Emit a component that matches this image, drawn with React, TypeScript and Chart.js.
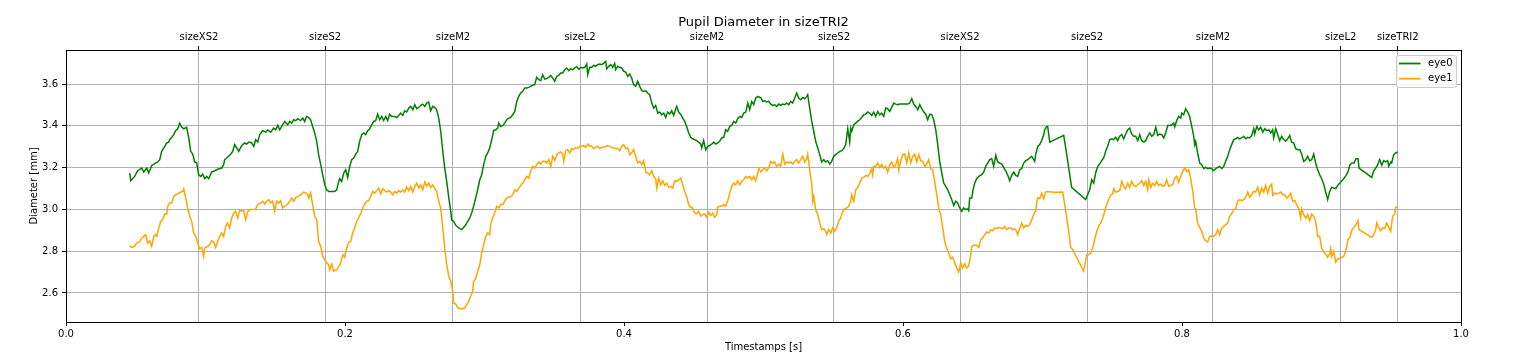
import React, { useEffect, useRef } from "react";
import { Chart, registerables } from "chart.js";

Chart.register(...registerables);

const eye0Time = [
  0.0457, 0.0464, 0.0492, 0.0514, 0.0543, 0.0557, 0.0579, 0.0593, 0.0614, 0.0636, 0.0657, 0.0672, 0.0686, 0.0708, 0.0722, 0.0736, 0.0743, 0.0758, 0.0772, 0.0786,
  0.0801, 0.0815, 0.0829, 0.0844, 0.0865, 0.0880, 0.0894, 0.0908, 0.0923, 0.0937, 0.0951, 0.0966, 0.0980, 0.0994, 0.1009, 0.1023, 0.1044, 0.1066, 0.1087, 0.1116,
  0.1130, 0.1138, 0.1152, 0.1166, 0.1181, 0.1195, 0.1209, 0.1224, 0.1238, 0.1252, 0.1267, 0.1281, 0.1295, 0.1310, 0.1331, 0.1346, 0.1360, 0.1374, 0.1389, 0.1410,
  0.1432, 0.1446, 0.1467, 0.1489, 0.1503, 0.1518, 0.1532, 0.1553, 0.1568, 0.1589, 0.1604, 0.1618, 0.1632, 0.1647, 0.1661, 0.1682, 0.1697, 0.1711, 0.1725, 0.1740,
  0.1754, 0.1768, 0.1783, 0.1797, 0.1811, 0.1826, 0.1840, 0.1855, 0.1869, 0.1883, 0.1905, 0.1926, 0.1941, 0.1955, 0.1962, 0.1976, 0.1991, 0.2005, 0.2019, 0.2034,
  0.2048, 0.2062, 0.2077, 0.2091, 0.2105, 0.2120, 0.2134, 0.2148, 0.2163, 0.2177, 0.2191, 0.2206, 0.2220, 0.2234, 0.2249, 0.2263, 0.2277, 0.2292, 0.2306, 0.2320,
  0.2335, 0.2356, 0.2371, 0.2385, 0.2399, 0.2414, 0.2428, 0.2442, 0.2457, 0.2471, 0.2486, 0.2500, 0.2514, 0.2529, 0.2543, 0.2557, 0.2572, 0.2586, 0.2600, 0.2614,
  0.2629, 0.2643, 0.2657, 0.2672, 0.2686, 0.2701, 0.2715, 0.2729, 0.2744, 0.2758, 0.2765, 0.2779, 0.2794, 0.2815, 0.2836, 0.2858, 0.2880, 0.2894, 0.2908, 0.2922,
  0.2937, 0.2951, 0.2966, 0.2980, 0.2994, 0.3009, 0.3023, 0.3037, 0.3052, 0.3066, 0.3080, 0.3095, 0.3102, 0.3116, 0.3131, 0.3145, 0.3159, 0.3174, 0.3188, 0.3202,
  0.3217, 0.3231, 0.3245, 0.3260, 0.3274, 0.3288, 0.3303, 0.3317, 0.3331, 0.3346, 0.3360, 0.3374, 0.3389, 0.3403, 0.3417, 0.3432, 0.3446, 0.3460, 0.3475, 0.3489,
  0.3503, 0.3518, 0.3532, 0.3546, 0.3561, 0.3575, 0.3589, 0.3604, 0.3618, 0.3632, 0.3647, 0.3661, 0.3676, 0.3690, 0.3704, 0.3719, 0.3733, 0.3740, 0.3754, 0.3768,
  0.3783, 0.3797, 0.3811, 0.3826, 0.3840, 0.3855, 0.3869, 0.3876, 0.3890, 0.3905, 0.3919, 0.3933, 0.3940, 0.3955, 0.3969, 0.3984, 0.3998, 0.4012, 0.4027, 0.4041,
  0.4055, 0.4069, 0.4084, 0.4098, 0.4113, 0.4127, 0.4141, 0.4156, 0.4170, 0.4184, 0.4199, 0.4213, 0.4227, 0.4242, 0.4256, 0.4270, 0.4285, 0.4299, 0.4313, 0.4328,
  0.4342, 0.4356, 0.4371, 0.4378, 0.4392, 0.4406, 0.4421, 0.4435, 0.4449, 0.4464, 0.4478, 0.4492, 0.4507, 0.4521, 0.4535, 0.4550, 0.4557, 0.4571, 0.4586, 0.4600,
  0.4614, 0.4629, 0.4643, 0.4657, 0.4672, 0.4686, 0.4700, 0.4715, 0.4729, 0.4743, 0.4758, 0.4772, 0.4786, 0.4801, 0.4815, 0.4829, 0.4844, 0.4858, 0.4873, 0.4887,
  0.4901, 0.4916, 0.4930, 0.4944, 0.4959, 0.4973, 0.4980, 0.4994, 0.5009, 0.5023, 0.5037, 0.5052, 0.5066, 0.5080, 0.5095, 0.5109, 0.5123, 0.5138, 0.5152, 0.5166,
  0.5181, 0.5195, 0.5209, 0.5224, 0.5238, 0.5252, 0.5267, 0.5281, 0.5296, 0.5310, 0.5317, 0.5331, 0.5346, 0.5360, 0.5374, 0.5389, 0.5403, 0.5417, 0.5432, 0.5446,
  0.5460, 0.5475, 0.5489, 0.5503, 0.5518, 0.5532, 0.5547, 0.5561, 0.5575, 0.5589, 0.5597, 0.5604, 0.5618, 0.5625, 0.5632, 0.5647, 0.5661, 0.5675, 0.5690, 0.5704,
  0.5718, 0.5733, 0.5747, 0.5761, 0.5776, 0.5790, 0.5804, 0.5819, 0.5833, 0.5847, 0.5862, 0.5876, 0.5890, 0.5905, 0.5919, 0.5934, 0.5948, 0.5962, 0.5976, 0.6005,
  0.6034, 0.6048, 0.6063, 0.6077, 0.6091, 0.6106, 0.6120, 0.6134, 0.6149, 0.6163, 0.6177, 0.6192, 0.6206, 0.6220, 0.6235, 0.6249, 0.6263, 0.6278, 0.6292, 0.6306,
  0.6321, 0.6335, 0.6349, 0.6364, 0.6378, 0.6392, 0.6407, 0.6421, 0.6435, 0.6450, 0.6464, 0.6471, 0.6478, 0.6493, 0.6500, 0.6514, 0.6528, 0.6543, 0.6564, 0.6579,
  0.6593, 0.6607, 0.6622, 0.6636, 0.6650, 0.6665, 0.6679, 0.6693, 0.6708, 0.6722, 0.6736, 0.6751, 0.6765, 0.6779, 0.6794, 0.6808, 0.6822, 0.6837, 0.6851, 0.6865,
  0.6880, 0.6894, 0.6908, 0.6923, 0.6937, 0.6944, 0.6951, 0.6966, 0.6980, 0.6994, 0.7009, 0.7016, 0.7030, 0.7037, 0.7052, 0.7152, 0.7174, 0.7195, 0.7209, 0.7309,
  0.7324, 0.7338, 0.7353, 0.7367, 0.7381, 0.7396, 0.7410, 0.7424, 0.7438, 0.7446, 0.7453, 0.7467, 0.7482, 0.7496, 0.7510, 0.7525, 0.7539, 0.7553, 0.7568, 0.7582,
  0.7596, 0.7611, 0.7625, 0.7639, 0.7654, 0.7668, 0.7683, 0.7697, 0.7711, 0.7726, 0.7740, 0.7754, 0.7769, 0.7783, 0.7797, 0.7812, 0.7826, 0.7840, 0.7855, 0.7869,
  0.7883, 0.7898, 0.7912, 0.7926, 0.7941, 0.7948, 0.7962, 0.7976, 0.7991, 0.7998, 0.8012, 0.8026, 0.8041, 0.8055, 0.8070, 0.8084, 0.8091, 0.8098, 0.8112, 0.8127,
  0.8141, 0.8156, 0.8170, 0.8184, 0.8199, 0.8213, 0.8227, 0.8242, 0.8256, 0.8270, 0.8285, 0.8299, 0.8313, 0.8328, 0.8342, 0.8356, 0.8371, 0.8385, 0.8399, 0.8414,
  0.8428, 0.8442, 0.8457, 0.8471, 0.8485, 0.8500, 0.8514, 0.8521, 0.8536, 0.8550, 0.8564, 0.8579, 0.8593, 0.8607, 0.8622, 0.8636, 0.8650, 0.8657, 0.8672, 0.8686,
  0.8700, 0.8715, 0.8729, 0.8743, 0.8758, 0.8772, 0.8786, 0.8801, 0.8815, 0.8829, 0.8844, 0.8858, 0.8872, 0.8887, 0.8901, 0.8915, 0.8930, 0.8944, 0.8958, 0.8973,
  0.8987, 0.9001, 0.9016, 0.9030, 0.9044, 0.9059, 0.9073, 0.9087, 0.9102, 0.9116, 0.9138, 0.9159, 0.9176, 0.9190, 0.9204, 0.9219, 0.9233, 0.9247, 0.9262, 0.9269,
  0.9360, 0.9374, 0.9389, 0.9403, 0.9417, 0.9432, 0.9446, 0.9460, 0.9474, 0.9482, 0.9496, 0.9503, 0.9518, 0.9532, 0.9546,
];

const eye0Diameter = [
  3.174, 3.137, 3.158, 3.185, 3.198, 3.179, 3.198, 3.174, 3.209, 3.219, 3.227, 3.238, 3.278, 3.302, 3.318, 3.322, 3.334, 3.345, 3.358, 3.377,
  3.386, 3.413, 3.394, 3.386, 3.393, 3.342, 3.278, 3.265, 3.227, 3.222, 3.166, 3.158, 3.169, 3.147, 3.158, 3.147, 3.179, 3.185, 3.192, 3.198,
  3.214, 3.238, 3.246, 3.254, 3.265, 3.278, 3.310, 3.294, 3.278, 3.297, 3.310, 3.318, 3.313, 3.322, 3.319, 3.302, 3.334, 3.322, 3.358, 3.377,
  3.370, 3.380, 3.370, 3.389, 3.381, 3.402, 3.381, 3.405, 3.421, 3.405, 3.421, 3.413, 3.429, 3.425, 3.434, 3.425, 3.437, 3.421, 3.445, 3.440,
  3.429, 3.397, 3.366, 3.326, 3.262, 3.214, 3.166, 3.118, 3.094, 3.086, 3.086, 3.086, 3.094, 3.134, 3.147, 3.134, 3.174, 3.190, 3.153, 3.206,
  3.238, 3.246, 3.265, 3.278, 3.326, 3.358, 3.366, 3.358, 3.377, 3.386, 3.405, 3.421, 3.425, 3.456, 3.429, 3.445, 3.425, 3.445, 3.425, 3.456,
  3.445, 3.445, 3.440, 3.450, 3.461, 3.450, 3.472, 3.466, 3.485, 3.493, 3.477, 3.501, 3.482, 3.488, 3.498, 3.504, 3.493, 3.509, 3.514, 3.472,
  3.493, 3.488, 3.477, 3.437, 3.374, 3.278, 3.198, 3.134, 3.055, 2.991, 2.948, 2.943, 2.924, 2.911, 2.903, 2.919, 2.943, 2.959, 2.983, 3.015,
  3.055, 3.094, 3.142, 3.166, 3.214, 3.254, 3.270, 3.294, 3.334, 3.377, 3.381, 3.389, 3.413, 3.397, 3.402, 3.413, 3.429, 3.437, 3.440, 3.453,
  3.469, 3.517, 3.541, 3.557, 3.565, 3.581, 3.581, 3.584, 3.589, 3.594, 3.597, 3.632, 3.621, 3.616, 3.645, 3.624, 3.626, 3.632, 3.641, 3.629,
  3.613, 3.637, 3.641, 3.653, 3.653, 3.669, 3.677, 3.664, 3.673, 3.669, 3.677, 3.683, 3.670, 3.680, 3.677, 3.680, 3.696, 3.645, 3.680, 3.680,
  3.689, 3.685, 3.693, 3.696, 3.693, 3.700, 3.708, 3.673, 3.685, 3.693, 3.680, 3.699, 3.669, 3.685, 3.680, 3.677, 3.661, 3.657, 3.637, 3.648,
  3.629, 3.597, 3.589, 3.613, 3.589, 3.568, 3.565, 3.568, 3.557, 3.549, 3.509, 3.485, 3.498, 3.461, 3.466, 3.453, 3.461, 3.440, 3.466, 3.456,
  3.472, 3.450, 3.482, 3.493, 3.466, 3.456, 3.437, 3.421, 3.397, 3.366, 3.345, 3.338, 3.334, 3.329, 3.322, 3.313, 3.294, 3.329, 3.286, 3.302,
  3.306, 3.313, 3.322, 3.313, 3.318, 3.326, 3.342, 3.345, 3.381, 3.374, 3.397, 3.402, 3.421, 3.413, 3.434, 3.445, 3.440, 3.461, 3.466, 3.509,
  3.477, 3.517, 3.501, 3.533, 3.541, 3.536, 3.536, 3.517, 3.520, 3.514, 3.517, 3.504, 3.498, 3.501, 3.493, 3.504, 3.498, 3.504, 3.501, 3.509,
  3.501, 3.517, 3.509, 3.533, 3.557, 3.533, 3.525, 3.536, 3.530, 3.541, 3.549, 3.485, 3.421, 3.374, 3.326, 3.294, 3.262, 3.227, 3.238, 3.227,
  3.233, 3.217, 3.230, 3.254, 3.262, 3.270, 3.278, 3.281, 3.291, 3.310, 3.350, 3.386, 3.322, 3.389, 3.374, 3.405, 3.413, 3.421, 3.429, 3.440,
  3.453, 3.456, 3.466, 3.461, 3.450, 3.466, 3.445, 3.469, 3.453, 3.461, 3.445, 3.485, 3.482, 3.469, 3.488, 3.509, 3.504, 3.501, 3.504, 3.504,
  3.504, 3.509, 3.530, 3.504, 3.493, 3.477, 3.501, 3.482, 3.466, 3.456, 3.429, 3.456, 3.453, 3.429, 3.381, 3.310, 3.230, 3.174, 3.126, 3.110,
  3.094, 3.070, 3.047, 3.019, 3.039, 3.031, 3.007, 2.991, 3.007, 2.999, 3.003, 2.994, 3.055, 3.055, 3.086, 3.126, 3.147, 3.158, 3.166, 3.179,
  3.206, 3.222, 3.238, 3.243, 3.206, 3.259, 3.227, 3.222, 3.217, 3.201, 3.185, 3.163, 3.137, 3.163, 3.179, 3.163, 3.158, 3.190, 3.195, 3.222,
  3.233, 3.238, 3.246, 3.254, 3.238, 3.230, 3.262, 3.302, 3.310, 3.329, 3.358, 3.381, 3.397, 3.397, 3.322, 3.354, 3.262, 3.166, 3.106, 3.047,
  3.070, 3.094, 3.142, 3.126, 3.174, 3.206, 3.217, 3.233, 3.246, 3.262, 3.278, 3.302, 3.334, 3.338, 3.334, 3.345, 3.329, 3.350, 3.358, 3.338,
  3.361, 3.381, 3.389, 3.361, 3.350, 3.350, 3.329, 3.358, 3.329, 3.322, 3.329, 3.350, 3.366, 3.350, 3.358, 3.393, 3.354, 3.361, 3.358, 3.342,
  3.366, 3.402, 3.402, 3.405, 3.413, 3.395, 3.425, 3.445, 3.437, 3.461, 3.453, 3.482, 3.466, 3.445, 3.397, 3.350, 3.310, 3.326, 3.270, 3.222,
  3.214, 3.195, 3.201, 3.195, 3.198, 3.195, 3.185, 3.195, 3.201, 3.206, 3.195, 3.206, 3.230, 3.254, 3.286, 3.310, 3.334, 3.338, 3.345, 3.338,
  3.342, 3.350, 3.338, 3.345, 3.342, 3.354, 3.386, 3.361, 3.397, 3.381, 3.393, 3.370, 3.386, 3.377, 3.381, 3.366, 3.381, 3.342, 3.386, 3.358,
  3.329, 3.350, 3.334, 3.326, 3.338, 3.354, 3.322, 3.318, 3.291, 3.286, 3.286, 3.265, 3.230, 3.238, 3.254, 3.233, 3.238, 3.265, 3.222, 3.190,
  3.166, 3.147, 3.121, 3.083, 3.047, 3.086, 3.106, 3.102, 3.099, 3.115, 3.131, 3.147, 3.163, 3.179, 3.214, 3.222, 3.222, 3.243, 3.243, 3.198,
  3.153, 3.185, 3.198, 3.214, 3.238, 3.211, 3.233, 3.227, 3.233, 3.206, 3.227, 3.222, 3.262, 3.270, 3.275,
];

const eye1Time = [
  0.0457, 0.0471, 0.0492, 0.0507, 0.0528, 0.0543, 0.0557, 0.0571, 0.0586, 0.0600, 0.0614, 0.0629, 0.0643, 0.0650, 0.0665, 0.0679, 0.0693, 0.0708, 0.0722, 0.0729,
  0.0743, 0.0758, 0.0772, 0.0786, 0.0801, 0.0822, 0.0837, 0.0844, 0.0858, 0.0872, 0.0887, 0.0901, 0.0915, 0.0930, 0.0944, 0.0958, 0.0973, 0.0987, 0.0994, 0.1016,
  0.1030, 0.1044, 0.1059, 0.1073, 0.1087, 0.1102, 0.1116, 0.1130, 0.1145, 0.1159, 0.1173, 0.1188, 0.1202, 0.1216, 0.1231, 0.1245, 0.1259, 0.1274, 0.1288, 0.1303,
  0.1324, 0.1346, 0.1360, 0.1374, 0.1396, 0.1410, 0.1424, 0.1439, 0.1453, 0.1467, 0.1481, 0.1496, 0.1510, 0.1524, 0.1539, 0.1553, 0.1568, 0.1589, 0.1604, 0.1618,
  0.1632, 0.1647, 0.1668, 0.1690, 0.1704, 0.1718, 0.1733, 0.1740, 0.1754, 0.1768, 0.1783, 0.1797, 0.1811, 0.1826, 0.1840, 0.1855, 0.1869, 0.1883, 0.1890, 0.1905,
  0.1919, 0.1933, 0.1941, 0.1955, 0.1969, 0.1984, 0.1998, 0.2012, 0.2027, 0.2041, 0.2055, 0.2069, 0.2084, 0.2098, 0.2113, 0.2127, 0.2141, 0.2156, 0.2170, 0.2184,
  0.2199, 0.2213, 0.2227, 0.2242, 0.2256, 0.2270, 0.2285, 0.2299, 0.2313, 0.2328, 0.2342, 0.2356, 0.2371, 0.2385, 0.2399, 0.2414, 0.2428, 0.2442, 0.2457, 0.2471,
  0.2486, 0.2500, 0.2514, 0.2529, 0.2543, 0.2557, 0.2572, 0.2586, 0.2600, 0.2614, 0.2629, 0.2643, 0.2657, 0.2672, 0.2686, 0.2701, 0.2715, 0.2729, 0.2744, 0.2758,
  0.2772, 0.2779, 0.2794, 0.2808, 0.2822, 0.2836, 0.2858, 0.2872, 0.2887, 0.2901, 0.2915, 0.2922, 0.2937, 0.2951, 0.2966, 0.2980, 0.2994, 0.3009, 0.3023, 0.3037,
  0.3044, 0.3059, 0.3073, 0.3087, 0.3102, 0.3116, 0.3131, 0.3145, 0.3159, 0.3174, 0.3188, 0.3202, 0.3217, 0.3231, 0.3245, 0.3260, 0.3274, 0.3288, 0.3303, 0.3317,
  0.3331, 0.3346, 0.3360, 0.3374, 0.3389, 0.3403, 0.3417, 0.3432, 0.3446, 0.3460, 0.3475, 0.3489, 0.3503, 0.3518, 0.3532, 0.3546, 0.3561, 0.3568, 0.3582, 0.3596,
  0.3611, 0.3625, 0.3639, 0.3654, 0.3668, 0.3682, 0.3697, 0.3711, 0.3725, 0.3740, 0.3754, 0.3768, 0.3783, 0.3797, 0.3811, 0.3826, 0.3840, 0.3855, 0.3869, 0.3883,
  0.3898, 0.3912, 0.3926, 0.3940, 0.3955, 0.3969, 0.3984, 0.3998, 0.4012, 0.4027, 0.4041, 0.4055, 0.4069, 0.4084, 0.4098, 0.4113, 0.4127, 0.4141, 0.4156, 0.4170,
  0.4184, 0.4199, 0.4213, 0.4227, 0.4235, 0.4249, 0.4263, 0.4278, 0.4292, 0.4306, 0.4321, 0.4335, 0.4349, 0.4364, 0.4378, 0.4392, 0.4406, 0.4421, 0.4435, 0.4449,
  0.4464, 0.4478, 0.4492, 0.4507, 0.4521, 0.4535, 0.4550, 0.4564, 0.4579, 0.4593, 0.4607, 0.4622, 0.4636, 0.4650, 0.4665, 0.4672, 0.4686, 0.4700, 0.4715, 0.4729,
  0.4743, 0.4758, 0.4772, 0.4786, 0.4801, 0.4815, 0.4829, 0.4844, 0.4858, 0.4873, 0.4887, 0.4901, 0.4916, 0.4930, 0.4944, 0.4959, 0.4966, 0.4980, 0.4994, 0.5009,
  0.5023, 0.5037, 0.5052, 0.5066, 0.5080, 0.5095, 0.5109, 0.5123, 0.5138, 0.5152, 0.5166, 0.5181, 0.5195, 0.5209, 0.5224, 0.5238, 0.5252, 0.5267, 0.5281, 0.5296,
  0.5310, 0.5317, 0.5331, 0.5346, 0.5353, 0.5360, 0.5374, 0.5389, 0.5403, 0.5417, 0.5432, 0.5446, 0.5453, 0.5467, 0.5482, 0.5496, 0.5510, 0.5525, 0.5539, 0.5553,
  0.5568, 0.5582, 0.5597, 0.5611, 0.5625, 0.5632, 0.5647, 0.5661, 0.5675, 0.5690, 0.5704, 0.5718, 0.5733, 0.5747, 0.5761, 0.5776, 0.5783, 0.5790, 0.5804, 0.5819,
  0.5833, 0.5847, 0.5862, 0.5876, 0.5890, 0.5905, 0.5919, 0.5934, 0.5948, 0.5962, 0.5969, 0.5984, 0.5998, 0.6012, 0.6027, 0.6041, 0.6055, 0.6070, 0.6084, 0.6098,
  0.6113, 0.6127, 0.6141, 0.6156, 0.6170, 0.6184, 0.6199, 0.6213, 0.6227, 0.6242, 0.6256, 0.6270, 0.6285, 0.6299, 0.6313, 0.6328, 0.6342, 0.6356, 0.6371, 0.6385,
  0.6399, 0.6414, 0.6428, 0.6442, 0.6457, 0.6471, 0.6485, 0.6493, 0.6507, 0.6528, 0.6543, 0.6557, 0.6571, 0.6586, 0.6600, 0.6615, 0.6629, 0.6643, 0.6657, 0.6672,
  0.6686, 0.6700, 0.6715, 0.6729, 0.6743, 0.6758, 0.6772, 0.6786, 0.6801, 0.6815, 0.6822, 0.6837, 0.6851, 0.6865, 0.6880, 0.6894, 0.6908, 0.6923, 0.6937, 0.6951,
  0.6958, 0.6966, 0.6980, 0.6994, 0.7009, 0.7023, 0.7037, 0.7088, 0.7145, 0.7159, 0.7174, 0.7188, 0.7202, 0.7217, 0.7295, 0.7317, 0.7331, 0.7346, 0.7360, 0.7374,
  0.7389, 0.7403, 0.7417, 0.7432, 0.7446, 0.7460, 0.7475, 0.7489, 0.7503, 0.7510, 0.7525, 0.7539, 0.7553, 0.7568, 0.7582, 0.7596, 0.7611, 0.7625, 0.7639, 0.7654,
  0.7668, 0.7683, 0.7697, 0.7711, 0.7726, 0.7740, 0.7754, 0.7761, 0.7776, 0.7790, 0.7804, 0.7819, 0.7833, 0.7847, 0.7862, 0.7876, 0.7890, 0.7905, 0.7919, 0.7933,
  0.7948, 0.7962, 0.7976, 0.7991, 0.8005, 0.8019, 0.8034, 0.8048, 0.8062, 0.8077, 0.8091, 0.8098, 0.8112, 0.8127, 0.8141, 0.8156, 0.8170, 0.8184, 0.8199, 0.8213,
  0.8227, 0.8242, 0.8256, 0.8270, 0.8285, 0.8299, 0.8313, 0.8328, 0.8342, 0.8356, 0.8371, 0.8385, 0.8399, 0.8414, 0.8428, 0.8442, 0.8457, 0.8471, 0.8485, 0.8500,
  0.8514, 0.8528, 0.8543, 0.8557, 0.8571, 0.8586, 0.8600, 0.8614, 0.8629, 0.8643, 0.8650, 0.8665, 0.8679, 0.8693, 0.8708, 0.8722, 0.8736, 0.8751, 0.8765, 0.8779,
  0.8794, 0.8808, 0.8822, 0.8837, 0.8851, 0.8858, 0.8872, 0.8887, 0.8901, 0.8915, 0.8930, 0.8944, 0.8958, 0.8973, 0.8987, 0.9001, 0.9016, 0.9030, 0.9044, 0.9059,
  0.9066, 0.9073, 0.9087, 0.9102, 0.9116, 0.9131, 0.9145, 0.9159, 0.9176, 0.9190, 0.9204, 0.9219, 0.9233, 0.9247, 0.9262, 0.9269, 0.9360, 0.9374, 0.9389, 0.9396,
  0.9410, 0.9424, 0.9439, 0.9453, 0.9467, 0.9482, 0.9496, 0.9510, 0.9525, 0.9532, 0.9546,
];

const eye1Diameter = [
  2.826, 2.818, 2.823, 2.839, 2.844, 2.863, 2.871, 2.879, 2.839, 2.850, 2.823, 2.871, 2.879, 2.871, 2.911, 2.943, 2.951, 2.978, 2.978, 3.015,
  3.031, 3.031, 3.062, 3.070, 3.074, 3.083, 3.086, 3.098, 3.055, 3.007, 2.967, 2.943, 2.887, 2.871, 2.839, 2.812, 2.818, 2.775, 2.815, 2.823,
  2.831, 2.850, 2.844, 2.818, 2.847, 2.871, 2.887, 2.871, 2.919, 2.935, 2.911, 2.959, 2.983, 2.991, 2.959, 2.994, 2.991, 2.994, 2.951, 2.991,
  2.999, 2.999, 3.003, 3.023, 3.031, 3.039, 3.026, 3.039, 3.047, 3.031, 3.039, 2.991, 3.039, 3.031, 3.042, 3.007, 3.015, 3.026, 3.039, 3.055,
  3.039, 3.058, 3.062, 3.074, 3.083, 3.079, 3.070, 3.055, 3.079, 3.023, 2.967, 2.951, 2.847, 2.823, 2.775, 2.759, 2.743, 2.735, 2.711, 2.738,
  2.704, 2.711, 2.711, 2.726, 2.743, 2.783, 2.771, 2.815, 2.844, 2.847, 2.887, 2.911, 2.943, 2.959, 2.983, 3.007, 3.026, 3.039, 3.042, 3.062,
  3.086, 3.078, 3.090, 3.102, 3.074, 3.099, 3.090, 3.083, 3.090, 3.083, 3.070, 3.086, 3.078, 3.090, 3.083, 3.094, 3.083, 3.106, 3.090, 3.110,
  3.083, 3.110, 3.126, 3.102, 3.118, 3.094, 3.131, 3.110, 3.126, 3.106, 3.118, 3.099, 3.086, 3.039, 3.007, 2.911, 2.815, 2.735, 2.680, 2.656,
  2.608, 2.552, 2.547, 2.531, 2.525, 2.525, 2.528, 2.544, 2.560, 2.584, 2.605, 2.656, 2.669, 2.704, 2.735, 2.791, 2.831, 2.871, 2.887, 2.879,
  2.927, 2.962, 2.983, 3.015, 3.007, 3.023, 3.023, 3.039, 3.055, 3.058, 3.062, 3.070, 3.094, 3.086, 3.102, 3.115, 3.126, 3.142, 3.158, 3.150,
  3.182, 3.206, 3.198, 3.214, 3.227, 3.217, 3.230, 3.230, 3.222, 3.238, 3.206, 3.254, 3.233, 3.262, 3.270, 3.275, 3.265, 3.230, 3.281, 3.286,
  3.270, 3.291, 3.286, 3.297, 3.291, 3.302, 3.302, 3.306, 3.297, 3.313, 3.302, 3.302, 3.291, 3.297, 3.302, 3.291, 3.297, 3.297, 3.302, 3.306,
  3.302, 3.297, 3.294, 3.291, 3.291, 3.281, 3.302, 3.310, 3.291, 3.294, 3.262, 3.270, 3.286, 3.254, 3.222, 3.230, 3.214, 3.233, 3.179, 3.174,
  3.166, 3.185, 3.158, 3.147, 3.102, 3.150, 3.118, 3.137, 3.115, 3.126, 3.106, 3.110, 3.102, 3.137, 3.134, 3.142, 3.150, 3.118, 3.086, 3.062,
  3.023, 3.010, 3.007, 2.983, 2.978, 2.991, 2.967, 2.975, 2.978, 2.962, 2.987, 2.971, 2.983, 2.962, 2.975, 3.010, 3.015, 3.015, 3.023, 3.015,
  3.039, 3.078, 3.110, 3.126, 3.118, 3.137, 3.118, 3.134, 3.142, 3.158, 3.150, 3.158, 3.142, 3.158, 3.137, 3.174, 3.198, 3.179, 3.190, 3.198,
  3.185, 3.198, 3.230, 3.222, 3.227, 3.206, 3.217, 3.206, 3.265, 3.217, 3.227, 3.222, 3.227, 3.217, 3.230, 3.238, 3.222, 3.238, 3.254, 3.227,
  3.243, 3.265, 3.190, 3.118, 3.039, 3.062, 2.999, 2.975, 2.935, 2.903, 2.908, 2.895, 2.879, 2.903, 2.887, 2.911, 2.895, 2.914, 2.943, 2.959,
  2.991, 3.003, 3.007, 3.015, 3.039, 3.070, 3.039, 3.094, 3.106, 3.126, 3.150, 3.153, 3.163, 3.158, 3.169, 3.195, 3.166, 3.206, 3.206, 3.222,
  3.201, 3.214, 3.198, 3.206, 3.179, 3.214, 3.227, 3.201, 3.214, 3.243, 3.190, 3.233, 3.262, 3.265, 3.222, 3.270, 3.222, 3.254, 3.265, 3.227,
  3.262, 3.233, 3.230, 3.206, 3.217, 3.238, 3.195, 3.190, 3.134, 3.070, 3.007, 2.975, 2.911, 2.847, 2.815, 2.791, 2.764, 2.771, 2.743, 2.720,
  2.700, 2.743, 2.720, 2.738, 2.720, 2.730, 2.780, 2.823, 2.828, 2.828, 2.818, 2.855, 2.863, 2.879, 2.892, 2.887, 2.903, 2.898, 2.911, 2.908,
  2.914, 2.911, 2.908, 2.919, 2.903, 2.911, 2.911, 2.903, 2.908, 2.895, 2.879, 2.908, 2.935, 2.911, 2.924, 2.919, 2.927, 2.951, 2.975, 2.991,
  3.031, 3.055, 3.051, 3.078, 3.051, 3.083, 3.086, 3.082, 3.083, 3.023, 2.959, 2.895, 2.818, 2.807, 2.704, 2.783, 2.783, 2.791, 2.815, 2.855,
  2.895, 2.919, 2.935, 2.959, 2.991, 3.023, 3.047, 3.070, 3.074, 3.099, 3.083, 3.086, 3.090, 3.134, 3.110, 3.099, 3.126, 3.106, 3.134, 3.115,
  3.110, 3.118, 3.126, 3.137, 3.115, 3.134, 3.094, 3.142, 3.106, 3.126, 3.115, 3.134, 3.115, 3.121, 3.110, 3.115, 3.142, 3.110, 3.115, 3.118,
  3.150, 3.158, 3.130, 3.158, 3.182, 3.198, 3.182, 3.190, 3.150, 3.086, 3.007, 3.003, 2.935, 2.914, 2.895, 2.863, 2.850, 2.844, 2.871, 2.871,
  2.871, 2.879, 2.903, 2.879, 2.911, 2.919, 2.927, 2.935, 2.967, 2.978, 2.999, 3.003, 3.039, 3.047, 3.042, 3.047, 3.058, 3.083, 3.058, 3.070,
  3.086, 3.083, 3.106, 3.070, 3.102, 3.083, 3.115, 3.078, 3.110, 3.121, 3.067, 3.078, 3.074, 3.078, 3.083, 3.070, 3.070, 3.055, 3.062, 3.078,
  3.039, 3.042, 3.023, 3.003, 2.959, 3.003, 2.975, 2.959, 2.975, 2.946, 2.978, 2.967, 2.943, 2.871, 2.871, 2.815, 2.796, 2.787, 2.771, 2.787,
  2.812, 2.775, 2.799, 2.748, 2.764, 2.764, 2.771, 2.775, 2.807, 2.855, 2.866, 2.903, 2.914, 2.927, 2.946, 2.903, 2.866, 2.879, 2.903, 2.935,
  2.914, 2.898, 2.911, 2.908, 2.935, 2.914, 2.895, 2.967, 2.978, 3.010, 3.010,
];

const markerTimes = [0.0953, 0.1857, 0.2774, 0.3685, 0.4595, 0.5505, 0.6409, 0.7319, 0.8222, 0.9138, 0.9547];
const markerLabels = ["sizeXS2", "sizeS2", "sizeM2", "sizeL2", "sizeM2", "sizeS2", "sizeXS2", "sizeS2", "sizeM2", "sizeL2", "sizeTRI2"];
const xTicks = [0, 0.2, 0.4, 0.6, 0.8, 1.0];
const yTicks = [2.6, 2.8, 3.0, 3.2, 3.4, 3.6];
const seriesNames = ["eye0", "eye1"];
const seriesColors = ["#008000", "#FFA500"];

const framePlugin = {
  id: "frame",
  afterDatasetsDraw(chart: any) {
    const { ctx, chartArea } = chart;
    ctx.save();
    ctx.strokeStyle = "#000";
    ctx.lineWidth = 1;
    ctx.strokeRect(
      chartArea.left + 0.5,
      chartArea.top + 0.5,
      chartArea.right - chartArea.left,
      chartArea.bottom - chartArea.top
    );
    ctx.restore();
  },
};

const legendPlugin = {
  id: "boxLegend",
  afterDraw(chart: any) {
    const { ctx, chartArea } = chart;
    const w = 60;
    const h = 32;
    const x = Math.round(chartArea.right - 65) + 0.5;
    const y = Math.round(chartArea.top + 5) + 0.5;
    ctx.save();
    ctx.beginPath();
    if (ctx.roundRect) ctx.roundRect(x, y, w, h, 2);
    else ctx.rect(x, y, w, h);
    ctx.fillStyle = "rgba(255,255,255,0.8)";
    ctx.fill();
    ctx.strokeStyle = "#cccccc";
    ctx.lineWidth = 1;
    ctx.stroke();
    chart.data.datasets.forEach((ds: any, i: number) => {
      const ly = y + 8 + i * 15.2;
      ctx.beginPath();
      ctx.moveTo(x + 2.5, ly);
      ctx.lineTo(x + 24, ly);
      ctx.strokeStyle = ds.borderColor;
      ctx.lineWidth = 1.8;
      ctx.stroke();
      ctx.fillStyle = "#000";
      ctx.font = '10px "DejaVu Sans", sans-serif';
      ctx.textBaseline = "middle";
      ctx.textAlign = "left";
      ctx.fillText(ds.label, x + 31.5, ly);
    });
    ctx.restore();
  },
};

export default function App() {
  const canvasRef = useRef<HTMLCanvasElement | null>(null);

  useEffect(() => {
    const canvas = canvasRef.current;
    if (!canvas) return;
    Chart.defaults.font.family = '"DejaVu Sans", sans-serif';
    Chart.defaults.font.size = 10;
    Chart.defaults.color = "#000";

    const times = [eye0Time, eye1Time];
    const values = [eye0Diameter, eye1Diameter];

    const chart = new Chart(canvas, {
      type: "line",
      data: {
        datasets: seriesNames.map((name, k) => ({
          label: name,
          data: times[k].map((t, i) => ({ x: t, y: values[k][i] })),
          borderColor: seriesColors[k],
          backgroundColor: seriesColors[k],
          borderWidth: 1.5,
          pointRadius: 0,
          tension: 0,
          fill: false,
          xAxisID: "x",
          yAxisID: "y",
        })),
      },
      options: {
        animation: false,
        responsive: false,
        devicePixelRatio: 1,
        events: [],
        layout: { padding: { left: 0, right: 52, top: 0, bottom: 0 } },
        plugins: {
          legend: { display: false },
          tooltip: { enabled: false },
          title: { display: false },
        },
        scales: {
          x: {
            type: "linear",
            position: "bottom",
            min: 0,
            max: 1,
            afterBuildTicks: (s: any) => {
              s.ticks = xTicks.map((v) => ({ value: v }));
            },
            afterFit: (s: any) => {
              s.height = 41;
            },
            ticks: {
              callback: (v: any) => Number(v).toFixed(1),
              padding: 2,
              maxRotation: 0,
              autoSkip: false,
              color: "#000",
              font: { size: 10 },
            },
            grid: {
              drawOnChartArea: false,
              drawTicks: true,
              tickLength: 4,
              tickColor: "#000",
              color: "#000",
              lineWidth: 1,
            },
            border: { display: false },
            title: {
              display: true,
              text: "Timestamps [s]",
              color: "#000",
              font: { size: 10 },
              padding: { top: 0, bottom: 10 },
            },
          },
          x2: {
            type: "linear",
            position: "top",
            min: 0,
            max: 1,
            afterBuildTicks: (s: any) => {
              s.ticks = markerTimes.map((v) => ({ value: v }));
            },
            afterFit: (s: any) => {
              s.height = 50;
            },
            ticks: {
              callback: (_v: any, i: number) => markerLabels[i],
              padding: 3,
              maxRotation: 0,
              autoSkip: false,
              color: "#000",
              font: { size: 10 },
            },
            grid: {
              drawOnChartArea: true,
              drawTicks: true,
              tickLength: 4,
              tickColor: "#000",
              color: "#b0b0b0",
              lineWidth: 1,
            },
            border: { display: false },
            title: {
              display: true,
              text: "Pupil Diameter in sizeTRI2",
              color: "#000",
              font: { size: 13 },
              padding: { top: 14.5, bottom: 0 },
            },
          },
          y: {
            type: "linear",
            position: "left",
            min: 2.461,
            max: 3.763,
            afterBuildTicks: (s: any) => {
              s.ticks = yTicks.map((v) => ({ value: v }));
            },
            afterFit: (s: any) => {
              s.width = 66;
            },
            ticks: {
              callback: (v: any) => Number(v).toFixed(1),
              padding: 4,
              autoSkip: false,
              color: "#000",
              font: { size: 10 },
            },
            grid: {
              drawOnChartArea: true,
              drawTicks: true,
              tickLength: 4,
              tickColor: "#000",
              color: "#b0b0b0",
              lineWidth: 1,
            },
            border: { display: false },
            title: {
              display: true,
              text: "Diameter [mm]",
              color: "#000",
              font: { size: 10 },
              padding: { top: 28, bottom: 0 },
            },
          },
        },
      },
      plugins: [framePlugin, legendPlugin],
    } as any);

    return () => {
      chart.destroy();
    };
  }, []);

  return (
    <div style={{ position: "absolute", left: 0, top: 0, width: 1513, height: 363, background: "#fff" }}>
      <canvas ref={canvasRef} width={1513} height={363} style={{ display: "block", width: 1513, height: 363 }} />
    </div>
  );
}
